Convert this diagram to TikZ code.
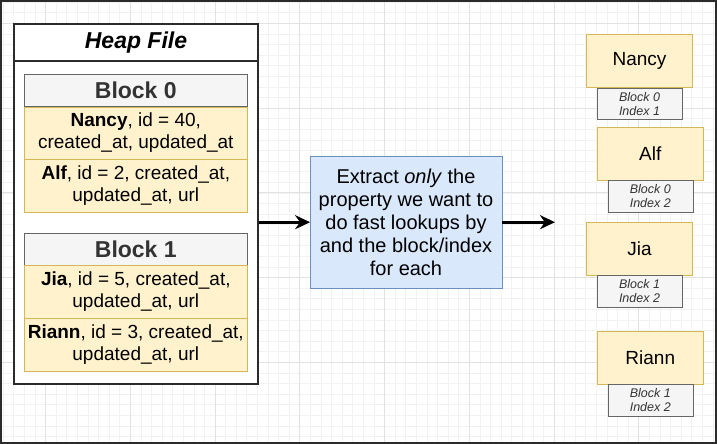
\documentclass[tikz,border=0pt]{standalone}
\usepackage{fontspec}
\setmainfont{Liberation Sans}
\usetikzlibrary{positioning,arrows.meta}
\definecolor{rowfill}{HTML}{FFF2CC}
\definecolor{rowline}{HTML}{D6B656}
\definecolor{hdrfill}{HTML}{F5F5F5}
\definecolor{hdrline}{HTML}{666666}
\definecolor{hdrtext}{HTML}{333333}
\definecolor{bluefill}{HTML}{DAE8FC}
\definecolor{blueline}{HTML}{6C8EBF}
\definecolor{gridminor}{HTML}{F2F2F2}
\definecolor{gridmajor}{HTML}{E2E2E2}
\definecolor{frameline}{HTML}{2B2B2B}
\begin{document}
\begin{tikzpicture}[x=1pt,y=-1pt,
  arrow/.style={draw,line width=2.6pt,-{Stealth[length=15pt,width=14pt]}},
  hdr/.style={draw=hdrline,fill=hdrfill,text=hdrtext,inner sep=0pt,minimum width=223pt,minimum height=32pt,font=\fontsize{23}{26}\selectfont\bfseries},
  row/.style={draw=rowline,fill=rowfill,inner sep=0pt,minimum width=223pt,minimum height=52.5pt,align=center,font=\fontsize{19}{22}\selectfont},
  key/.style={draw=rowline,fill=rowfill,inner sep=0pt,minimum width=106pt,minimum height=53pt,font=\fontsize{19}{22}\selectfont},
  idx/.style={draw=hdrline,fill=hdrfill,text=hdrtext,inner sep=0pt,minimum width=85pt,minimum height=31.7pt,align=center,font=\fontsize{12.5}{14}\selectfont\itshape}]
\useasboundingbox (0,0) rectangle (717,444);
% background grid
\foreach \i in {0,...,67} \draw[gridminor,line width=0.6pt] ({3.12+\i*10.594},0) -- ++(0,444);
\foreach \j in {0,...,41} \draw[gridminor,line width=0.6pt] (0,{2.11+\j*10.594}) -- ++(717,0);
\foreach \i in {0,...,7} \draw[gridmajor,line width=0.7pt] ({45.5+\i*84.75},0) -- ++(0,444);
\foreach \j in {0,...,4} \draw[gridmajor,line width=0.7pt] (0,{23.3+\j*84.75}) -- ++(717,0);
\draw[frameline,line width=2pt] (1,1) rectangle (716,443);
% heap file
\node[draw=frameline,fill=white,line width=1.3pt,minimum width=244pt,minimum height=360pt] at (136,204) (heap) {};
\node[draw=frameline,fill=white,line width=1.3pt,minimum width=244pt,minimum height=37pt,font=\fontsize{23}{26}\selectfont\bfseries\itshape] at (136,42.5) (heaptitle) {Heap File};
\node[hdr] at (135.8,90.3) (blockzero) {Block 0};
\node[row,below=0pt of blockzero] (nancyrow) {\textbf{Nancy}, id = 40,\\created\_at, updated\_at};
\node[row,below=0pt of nancyrow] (alfrow) {\textbf{Alf}, id = 2, created\_at,\\updated\_at, url};
\node[hdr] at (135.8,249.2) (blockone) {Block 1};
\node[row,below=0pt of blockone] (jiarow) {\textbf{Jia}, id = 5, created\_at,\\updated\_at, url};
\node[row,below=0pt of jiarow] (riannrow) {\textbf{Riann}, id = 3, created\_at,\\updated\_at, url};
% extract step
\node[draw=blueline,fill=bluefill,inner sep=0pt,minimum width=191.4pt,minimum height=132.3pt,align=center,font=\fontsize{20}{23}\selectfont] at (406,222.2) (extract) {Extract \textit{only} the\\property we want to\\do fast lookups by\\and the block/index\\for each};
% keys
\node[key] at (639.5,60.8) (nancy) {Nancy};
\node[idx,below=0pt of nancy] (nancyidx) {Block 0\\Index 1};
\node[key] at (650.3,153.5) (alf) {Alf};
\node[idx,below=0pt of alf] (alfidx) {Block 0\\Index 2};
\node[key] at (639.5,248.7) (jia) {Jia};
\node[idx,below=0pt of jia] (jiaidx) {Block 1\\Index 2};
\node[key] at (650.3,357.3) (riann) {Riann};
\node[idx,below=0pt of riann] (riannidx) {Block 1\\Index 2};
\coordinate (keys) at (555,222.2);
\draw[arrow] (heap.east |- extract.west) to (extract.west);
\draw[arrow] (extract.east) to (keys);
\end{tikzpicture}
\end{document}
